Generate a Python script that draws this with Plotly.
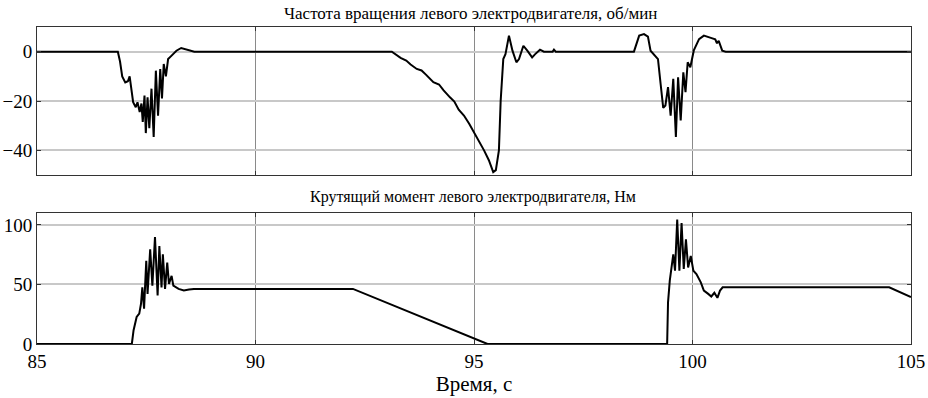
import plotly.graph_objects as go
from plotly.subplots import make_subplots

# --- Speed of left motor, rpm (top panel) ---
speed_t = [85.0, 86.85, 86.9, 86.95, 87.02, 87.08, 87.12, 87.2, 87.26, 87.3, 87.35, 87.39, 87.42,
           87.46, 87.49, 87.53, 87.57, 87.62, 87.67, 87.72, 87.77, 87.82, 87.86, 87.9, 87.95,
           88.0, 88.08, 88.19, 88.3, 88.42, 88.53, 88.6,
           93.12, 93.25, 93.32, 93.45, 93.55, 93.69, 93.8, 93.9, 94.07, 94.2, 94.3, 94.45,
           94.55, 94.65, 94.77, 94.89, 95.0, 95.11, 95.23, 95.34, 95.44,
           95.5, 95.57, 95.61, 95.67, 95.72, 95.8, 95.88, 95.97, 96.03, 96.13, 96.22, 96.33,
           96.4, 96.51, 96.6, 96.8, 96.83, 96.87,
           98.66, 98.78, 98.89, 98.98, 99.04, 99.16, 99.21, 99.27, 99.33, 99.38, 99.44, 99.5,
           99.56, 99.62, 99.67, 99.73, 99.79, 99.84, 99.89, 99.95, 100.03, 100.15, 100.26,
           100.42, 100.52, 100.56, 100.6, 100.68, 100.76, 105.0]
speed_v = [0, 0, -4, -10, -12.5, -12, -10, -20.5, -22.5, -20.5, -24.5, -21, -28.5,
           -17.8, -33, -18.5, -31, -15, -34.6, -7.7, -26, -7, -19, -5, -10,
           -3, -1.6, 0.4, 1.5, 1.0, 0.4, 0,
           0, -1.5, -2.5, -3.6, -5.2, -7, -7.6, -9.3, -12.4, -13.3, -15.6, -18.5,
           -20.2, -23.5, -25.9, -29.2, -32.6, -36, -40, -44, -48.8,
           -48, -40, -20, -3, -1, 6.5, 0.4, -4.3, -3, 2.4, 0.4, -2.3,
           -1, 0.8, 0, 0, 0.8, 0,
           0, 6.5, 7.1, 6.1, 0.4, -2.3, -3, -13, -22.8, -21.8, -14.4, -25.9,
           -11, -34.6, -10.4, -27.9, -8.4, -16.4, -4.3, -6.3, 0.5, 5.1, 6.5,
           5.6, 5.0, 3.4, 4.4, 0.4, 0, 0]

# --- Torque of left motor, N*m (bottom panel) ---
torque_t = [85.0, 87.17, 87.21, 87.28, 87.34, 87.38, 87.41, 87.45, 87.5, 87.53, 87.59, 87.64,
            87.7, 87.76, 87.8, 87.85, 87.88, 87.93, 87.98, 88.02, 88.08, 88.12, 88.24, 88.36,
            88.48, 88.59, 92.23, 95.31, 99.42, 99.44, 99.48, 99.56, 99.6, 99.65, 99.7, 99.75,
            99.8, 99.85, 99.9, 99.96, 100.02, 100.09, 100.19, 100.26, 100.36, 100.43, 100.5,
            100.57, 100.63, 100.69, 104.5, 105.0]
torque_v = [0, 0, 11.6, 22.7, 25.5, 33.8, 47.6, 29.7, 70, 42, 79.6, 49,
            89.8, 40.7, 82.3, 47.6, 75.3, 46.3, 68.4, 50.4, 57.3, 49, 46.3, 44.9,
            45.7, 46.3, 46.3, 0, 0, 35, 53.3, 75.3, 61.6, 104.5, 61.6, 101.7,
            63, 87.9, 64.3, 74, 61.6, 58.8, 51.8, 44.9, 42.1, 39.9, 43,
            38.8, 44.9, 47.6, 47.6, 39.4]

x_ticks = [85, 90, 95, 100, 105]
speed_ticks = [-40, -20, 0]
torque_ticks = [0, 50, 100]

title_top = "Частота вращения левого электродвигателя, об/мин"
title_bottom = "Крутящий момент левого электродвигателя, Нм"
x_title = "Время, с"

FONT = "Liberation Serif"

fig = make_subplots(rows=2, cols=1, shared_xaxes=False)
fig.add_trace(go.Scatter(x=speed_t, y=speed_v, mode="lines",
                         line=dict(color="black", width=2)), row=1, col=1)
fig.add_trace(go.Scatter(x=torque_t, y=torque_v, mode="lines",
                         line=dict(color="black", width=2)), row=2, col=1)

xcommon = dict(range=[85, 105], tickvals=x_ticks, showgrid=True, gridcolor="#8a8a8a",
               gridwidth=1, zeroline=False, showline=True, linecolor="#333333",
               linewidth=1, mirror="allticks", ticks="inside", ticklen=4, tickcolor="#333333",
               automargin=False)
ycommon = dict(showgrid=True, gridcolor="#c8c8c8", gridwidth=1.5, zeroline=False,
               showline=True, linecolor="#333333", linewidth=1, mirror="allticks",
               ticks="inside", ticklen=4, tickcolor="#333333", automargin=False,
               tickfont=dict(family=FONT, size=19, color="black"))

fig.update_xaxes(**xcommon, showticklabels=False, row=1, col=1)
fig.update_xaxes(**xcommon, showticklabels=True, row=2, col=1,
                 tickfont=dict(family=FONT, size=19, color="black"),
                 title=dict(text=x_title, font=dict(family=FONT, size=21, color="black"),
                            standoff=0))
fig.update_yaxes(**ycommon, range=[-50, 10], tickvals=speed_ticks, row=1, col=1)
fig.update_yaxes(**ycommon, range=[0, 110], tickvals=torque_ticks, row=2, col=1)

ph = 398 - 27 - 54
fig.update_layout(
    width=928, height=398,
    margin=dict(l=37, r=17, t=27, b=54, autoexpand=False),
    paper_bgcolor="white", plot_bgcolor="white",
    showlegend=False,
    font=dict(family=FONT, size=18, color="black"),
    xaxis=dict(domain=[0, 1]), xaxis2=dict(domain=[0, 1]),
    yaxis=dict(domain=[0.533, 1.0]), yaxis2=dict(domain=[0.0, 0.413]),
    annotations=[
        dict(text=title_top, x=0.496, y=(344 - 13) / ph, xref="paper", yref="paper",
             showarrow=False, yanchor="middle",
             font=dict(family=FONT, size=17, color="black")),
        dict(text=title_bottom, x=0.499, y=(344 - 197) / ph, xref="paper", yref="paper",
             showarrow=False, yanchor="middle",
             font=dict(family=FONT, size=16, color="black")),
    ],
)

fig.write_html("out.html", config={"displayModeBar": False},
               post_script="document.body.style.margin='0';document.body.style.overflow='hidden';")
